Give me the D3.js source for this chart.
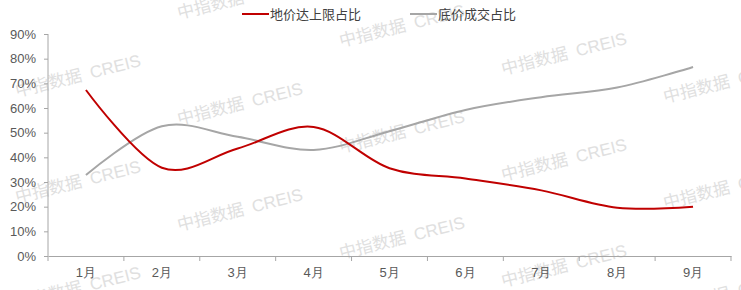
<!DOCTYPE html>
<html>
<head>
<meta charset="utf-8">
<script src="https://cdn.jsdelivr.net/npm/d3@7"></script>
<style>
  html, body { margin: 0; padding: 0; background: #fff; }
  svg { display: block; font-family: "Liberation Sans", Arial, "Noto Sans CJK SC", sans-serif; }
</style>
</head>
<body>
<div id="chart"></div>
<script>
var months = ['1月', '2月', '3月', '4月', '5月', '6月', '7月', '8月', '9月']
var capShare = [67.3, 35.8, 43.6, 52.3, 35.6, 31.4, 26.6, 19.6, 20.0]
var floorShare = [32.8, 52.6, 48.3, 43.0, 50.6, 59.2, 64.4, 68.3, 76.6]
var yTicks = [0, 10, 20, 30, 40, 50, 60, 70, 80, 90]
var seriesNames = ['地价达上限占比', '底价成交占比']
var seriesColors = ['#c00000', '#a6a6a6']

var w = 741
  , h = 290
  , m = {top: 34, right: 10, bottom: 34, left: 48}
  , svg = d3.select('#chart').append('svg').attr('width', w).attr('height', h)

var x = d3.scaleBand().domain(months).range([m.left, 731]).padding(0)
var y = d3.scaleLinear().domain([0, 90]).range([h - m.bottom, m.top])

// watermark grid
var wm = svg.append('g').attr('class', 'watermark')
d3.range(5).forEach(function(c){
  d3.range(-2, 3).forEach(function(r){
    var tx = 17 + 162 * c
      , ty = 97 + 28 * c + 106 * r
    if (ty < 0 || ty > h + 25) return
    wm.append('text')
      .attr('transform', 'translate(' + [tx, ty] + ') rotate(-14)')
      .attr('font-size', 17)
      .attr('fill', '#e0e0e0')
      .style('word-spacing', '4px')
      .text('中指数据 CREIS')
  })
})

// axes
var yAxis = svg.append('g')
  .attr('transform', 'translate(' + m.left + ',0)')
  .call(d3.axisLeft(y).tickValues(yTicks).tickSize(4).tickPadding(8).tickFormat(function(d){ return d + '%' }))
var xAxis = svg.append('g')
  .attr('transform', 'translate(0,' + (h - m.bottom) + ')')
  .call(d3.axisBottom(x).tickSize(0).tickPadding(12))

xAxis.selectAll('.tick')
  .append('line')
  .attr('x1', x.bandwidth() / 2).attr('x2', x.bandwidth() / 2)
  .attr('y1', 0).attr('y2', 5)
  .attr('stroke', '#a6a6a6')
xAxis.append('line')
  .attr('x1', m.left).attr('x2', m.left).attr('y1', 0).attr('y2', 5)
  .attr('stroke', '#a6a6a6')

svg.selectAll('.domain').attr('stroke', '#a6a6a6')
yAxis.selectAll('.tick line').attr('stroke', '#a6a6a6')
svg.selectAll('.tick text').attr('fill', '#595959').attr('font-size', 13)
yAxis.select('.domain').attr('d', 'M0,' + y(90) + 'V' + y(0))

// lines, smoothed like the source
var line = d3.line()
  .x(function(d, i){ return x(months[i]) + x.bandwidth() / 2 })
  .y(function(d){ return y(d) })
  .curve(d3.curveCatmullRom.alpha(0))

var series = [floorShare, capShare]
svg.selectAll('path.series').data(series)
  .enter().append('path').attr('class', 'series')
  .attr('d', line)
  .attr('fill', 'none')
  .attr('stroke-width', 2)
  .attr('stroke', function(d, i){ return i === 0 ? seriesColors[1] : seriesColors[0] })

// legend
var legendX = [242, 410]
var lg = svg.selectAll('g.legend').data(seriesNames)
  .enter().append('g').attr('class', 'legend')
  .attr('transform', function(d, i){ return 'translate(' + [legendX[i], 14] + ')' })
lg.append('line')
  .attr('x1', 0).attr('x2', 27)
  .attr('stroke', function(d, i){ return seriesColors[i] })
  .attr('stroke-width', 2)
lg.append('text')
  .attr('x', 28).attr('y', 5)
  .attr('font-size', 13)
  .attr('fill', '#404040')
  .text(function(d){ return d })
</script>
</body>
</html>
